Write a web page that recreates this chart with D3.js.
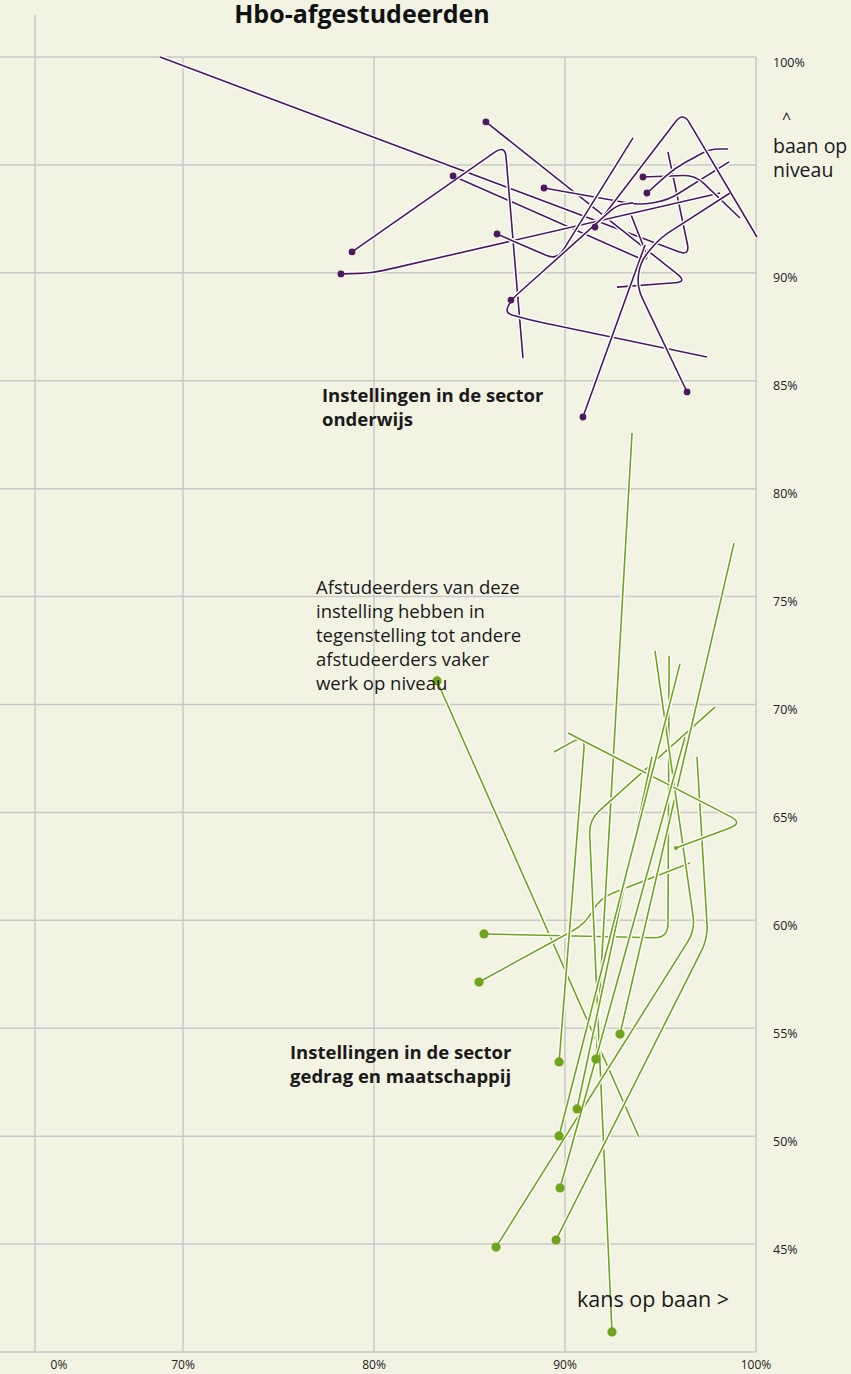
<!DOCTYPE html>
<html><head><meta charset="utf-8">
<script src="https://cdn.jsdelivr.net/npm/d3@7"></script>
<style>
html,body{margin:0;padding:0;background:#f3f3e3;}
svg{display:block;font-family:"Open Sans","Noto Sans",sans-serif;}
</style></head>
<body><svg id="c" width="851" height="1374"></svg>
<script>
// ---- data (values in %: [kans op baan, baan op niveau]) ----
const xTicks = [0, 70, 80, 90, 100];
const xTickLabels = ["0%", "70%", "80%", "90%", "100%"];
const yGrid = [100, 95, 90, 85, 80, 75, 70, 65, 60, 55, 50, 45, 40];
const yTicks = [100, 90, 85, 80, 75, 70, 65, 60, 55, 50, 45];

const onderwijsDots = [
  [85.86,96.99],[84.14,94.49],[88.90,93.93],[94.08,94.44],[94.29,93.70],[78.85,90.97],
  [78.27,89.95],[86.44,91.80],[91.57,92.12],[87.17,88.74],[90.94,83.32],[96.39,84.48]
];
const onderwijsLines = [
  [[68.80,100],[96.54,90.78],[95.39,95.60]],
  [[85.86,96.99],[96.39,89.58],[92.72,89.34]],
  [[84.14,94.49],[94.45,90.46],[93.40,92.82]],
  [[78.85,90.97],[86.86,95.92],[87.80,86.05]],
  [[78.27,89.95],[79.90,89.99],[98.12,93.70]],
  [[88.90,93.93],[93.93,93.14],[95.39,93.37],[98.59,95.14]],
  [[94.08,94.44],[96.81,94.53],[99.16,92.54]],
  [[94.29,93.70],[95.76,94.86],[97.59,95.74],[98.53,95.74]],
  [[91.57,92.12],[96.18,97.45],[100.05,91.66]],
  [[86.44,91.80],[89.58,90.59],[93.56,96.25]],
  [[97.43,86.10],[88.17,87.81],[86.86,88.14],[87.17,88.74],[92.72,93.14],[93.56,93.24]],
  [[90.94,83.32],[94.19,91.29]],
  [[96.39,84.48],[93.77,89.34],[93.93,90.50],[94.97,91.61],[98.64,93.70]]
];

const gedragDots = [
  [83.30,71.09],[85.76,59.37],[85.50,57.14],[89.69,53.44],[91.62,53.57],[92.88,54.73],
  [90.63,51.26],[89.69,50.01],[89.74,47.60],[86.39,44.86],[89.53,45.19],[92.46,40.93]
];
const gedragHiddenDots = [[95.81,63.35]];
const gedragLines = [
  [[83.30,71.09],[93.87,49.96]],
  [[85.76,59.37],[95.39,59.18],[95.45,72.25]],
  [[85.50,57.14],[91.05,59.83],[91.83,61.03],[96.54,62.66]],
  [[89.69,53.44],[91.05,68.59],[89.42,67.80]],
  [[91.62,53.53],[93.51,82.58]],
  [[92.46,40.93],[91.26,64.65],[97.85,69.88]],
  [[92.88,54.73],[98.85,77.48]],
  [[89.53,45.19],[97.48,59.18],[96.91,67.57]],
  [[86.39,44.86],[96.81,59.55],[94.71,72.48]],
  [[95.81,63.35],[99.32,64.51],[90.16,68.68]],
  [[90.63,51.26],[94.55,67.57]],
  [[89.69,50.01],[96.02,71.88]],
  [[89.74,47.60],[96.28,68.49]]
];

const title = "Hbo-afgestudeerden";
const labelOnderwijs = ["Instellingen in de sector", "onderwijs"];
const labelGedrag = ["Instellingen in de sector", "gedrag en maatschappij"];
const annotation = ["Afstudeerders van deze", "instelling hebben in", "tegenstelling tot andere", "afstudeerders vaker", "werk op niveau"];

// ---- drawing ----
const svg = d3.select("#c");
const W = 851, H = 1374;
const x = d3.scaleLinear().domain([70, 100]).range([183, 756]);           // data scale
const xAxis = d3.scaleLinear().domain([0, 70, 100]).range([59, 183, 756]); // broken axis labels
const y = d3.scaleLinear().domain([40, 100]).range([1352, 57]);
const purple = "#4a1a5c", green = "#6fa41c", grid = "#c8c8c8";

svg.append("rect").attr("width", W).attr("height", H).attr("fill", "#f3f3e3");

const g = svg.append("g");
g.selectAll("line.h").data(yGrid).join("line")
  .attr("x1", 0).attr("x2", x(100)).attr("y1", d => y(d)).attr("y2", d => y(d))
  .attr("stroke", grid).attr("stroke-width", 1.5);
g.selectAll("line.v").data(xTicks.filter(d => d >= 70)).join("line")
  .attr("x1", d => x(d)).attr("x2", d => x(d)).attr("y1", y(100)).attr("y2", y(40))
  .attr("stroke", grid).attr("stroke-width", 1.5);
g.append("line").attr("x1", 35).attr("x2", 35).attr("y1", 15).attr("y2", y(40))
  .attr("stroke", grid).attr("stroke-width", 1.5);

svg.selectAll("text.xt").data(xTicks).join("text")
  .attr("x", d => xAxis(d)).attr("y", 1369).attr("text-anchor", "middle")
  .attr("font-size", 12).attr("fill", "#222").text((d, i) => xTickLabels[i]);
svg.selectAll("text.yt").data(yTicks).join("text")
  .attr("x", 773).attr("y", d => y(d) + 9.5)
  .attr("font-size", 12.5).attr("fill", "#222").text(d => d + "%");

function roundedPath(pts, r) {
  let d = "M" + pts[0][0] + "," + pts[0][1];
  for (let i = 1; i < pts.length - 1; i++) {
    const p0 = pts[i - 1], p1 = pts[i], p2 = pts[i + 1];
    const l1 = Math.hypot(p1[0] - p0[0], p1[1] - p0[1]);
    const l2 = Math.hypot(p2[0] - p1[0], p2[1] - p1[1]);
    const rr = Math.min(r, l1 / 2, l2 / 2);
    const a = [p1[0] - (p1[0] - p0[0]) / l1 * rr, p1[1] - (p1[1] - p0[1]) / l1 * rr];
    const b = [p1[0] + (p2[0] - p1[0]) / l2 * rr, p1[1] + (p2[1] - p1[1]) / l2 * rr];
    d += "L" + a[0] + "," + a[1] + "Q" + p1[0] + "," + p1[1] + " " + b[0] + "," + b[1];
  }
  const l = pts[pts.length - 1];
  d += "L" + l[0] + "," + l[1];
  return d;
}

function drawGroup(lines, dots, hidden, color, rDot, radius) {
  const gg = svg.append("g");
  lines.forEach(ln => {
    const pts = ln.map(p => [x(p[0]), y(p[1])]);
    const d = roundedPath(pts, radius);
    gg.append("path").attr("d", d).attr("fill", "none").attr("stroke", "#fff")
      .attr("stroke-width", 4.2).attr("stroke-linejoin", "round");
    gg.append("path").attr("d", d).attr("fill", "none").attr("stroke", color)
      .attr("stroke-width", 1.6).attr("stroke-linejoin", "round");
  });
  gg.selectAll("circle.d").data(dots).join("circle")
    .attr("cx", d => x(d[0])).attr("cy", d => y(d[1])).attr("r", rDot).attr("fill", color);
  gg.selectAll("circle.h").data(hidden).join("circle")
    .attr("cx", d => x(d[0])).attr("cy", d => y(d[1])).attr("r", 2).attr("fill", color);
}
drawGroup(gedragLines, gedragDots, gedragHiddenDots, green, 4.6, 14);
drawGroup(onderwijsLines, onderwijsDots, [], purple, 3.4, 12);

svg.append("text").attr("x", 362).attr("y", 23).attr("text-anchor", "middle")
  .attr("font-size", 25).attr("font-weight", 700).attr("fill", "#111").text(title);

function multi(lines, x0, y0, lh, size, weight) {
  const t = svg.append("text").attr("x", x0).attr("y", y0).attr("font-size", size)
    .attr("font-weight", weight).attr("fill", "#1a1a1a");
  lines.forEach((s, i) => t.append("tspan").attr("x", x0).attr("y", y0 + i * lh).text(s));
}
multi(labelOnderwijs, 322, 402, 24, 18.5, 700);
multi(labelGedrag, 290, 1059, 24, 18.5, 700);
multi(annotation, 316, 594, 24, 18.5, 400);

svg.append("text").attr("x", 577).attr("y", 1307).attr("font-size", 21.5).attr("fill", "#1a1a1a").text("kans op baan >");
svg.append("text").attr("x", 782).attr("y", 124).attr("font-size", 16).attr("fill", "#1a1a1a").text("^");
multi(["baan op", "niveau"], 773, 153, 24, 19.5, 400);
</script></body></html>
